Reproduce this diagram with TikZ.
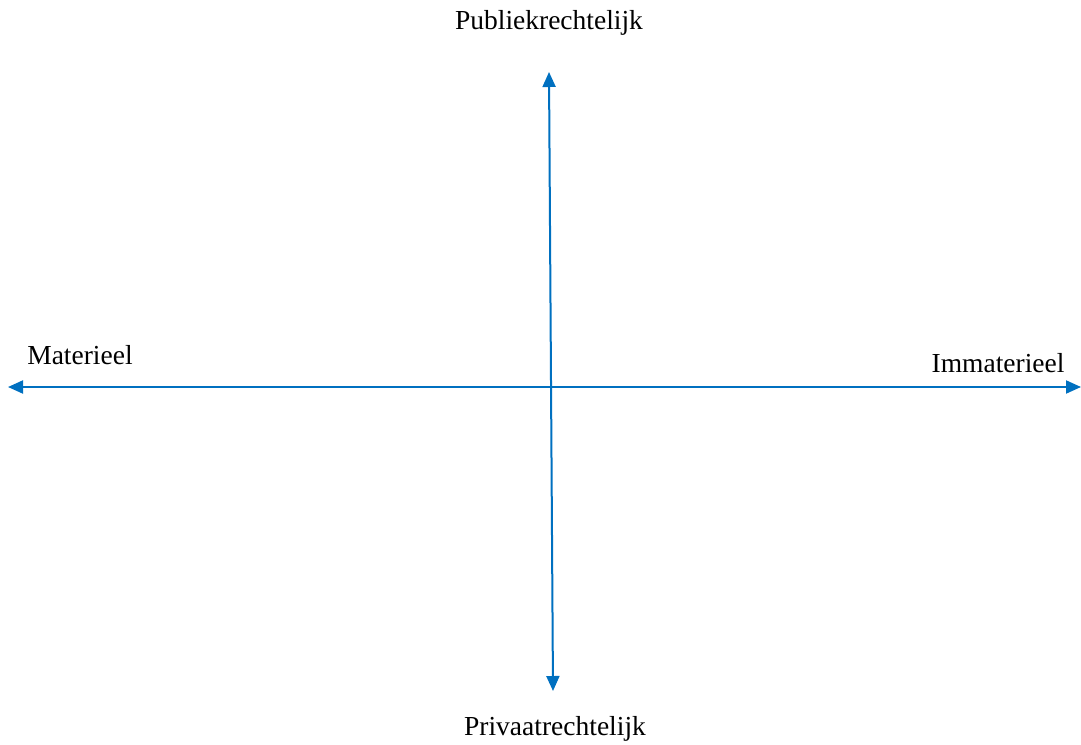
\documentclass[tikz,border=0pt]{standalone}
\usepackage{fontspec}
\setmainfont{Liberation Serif}
\usetikzlibrary{arrows.meta}
\definecolor{axisblue}{HTML}{0070C0}
\begin{document}
\begin{tikzpicture}[x=0.5pt,y=-0.5pt,
  axis/.style={draw=axisblue,line width=1pt,{Triangle[length=7.5pt,width=6.5pt]}-{Triangle[length=7.5pt,width=6.5pt]}},
  lbl/.style={font=\fontsize{13.75}{16}\selectfont,inner sep=0pt}]
\useasboundingbox (0,0) rectangle (1081,744);
\coordinate (top) at (549,72);
\coordinate (bottom) at (553,691);
\coordinate (left) at (8,387);
\coordinate (right) at (1081,387);
\draw[axis] (top) -- (bottom);
\draw[axis] (left) -- (right);
\node[lbl] (pub) at (549,23) {Publiekrechtelijk};
\node[lbl] (priv) at (555,729) {Privaatrechtelijk};
\node[lbl] (mat) at (80,355) {Materieel};
\node[lbl] (immat) at (998,363) {Immaterieel};
\end{tikzpicture}
\end{document}
